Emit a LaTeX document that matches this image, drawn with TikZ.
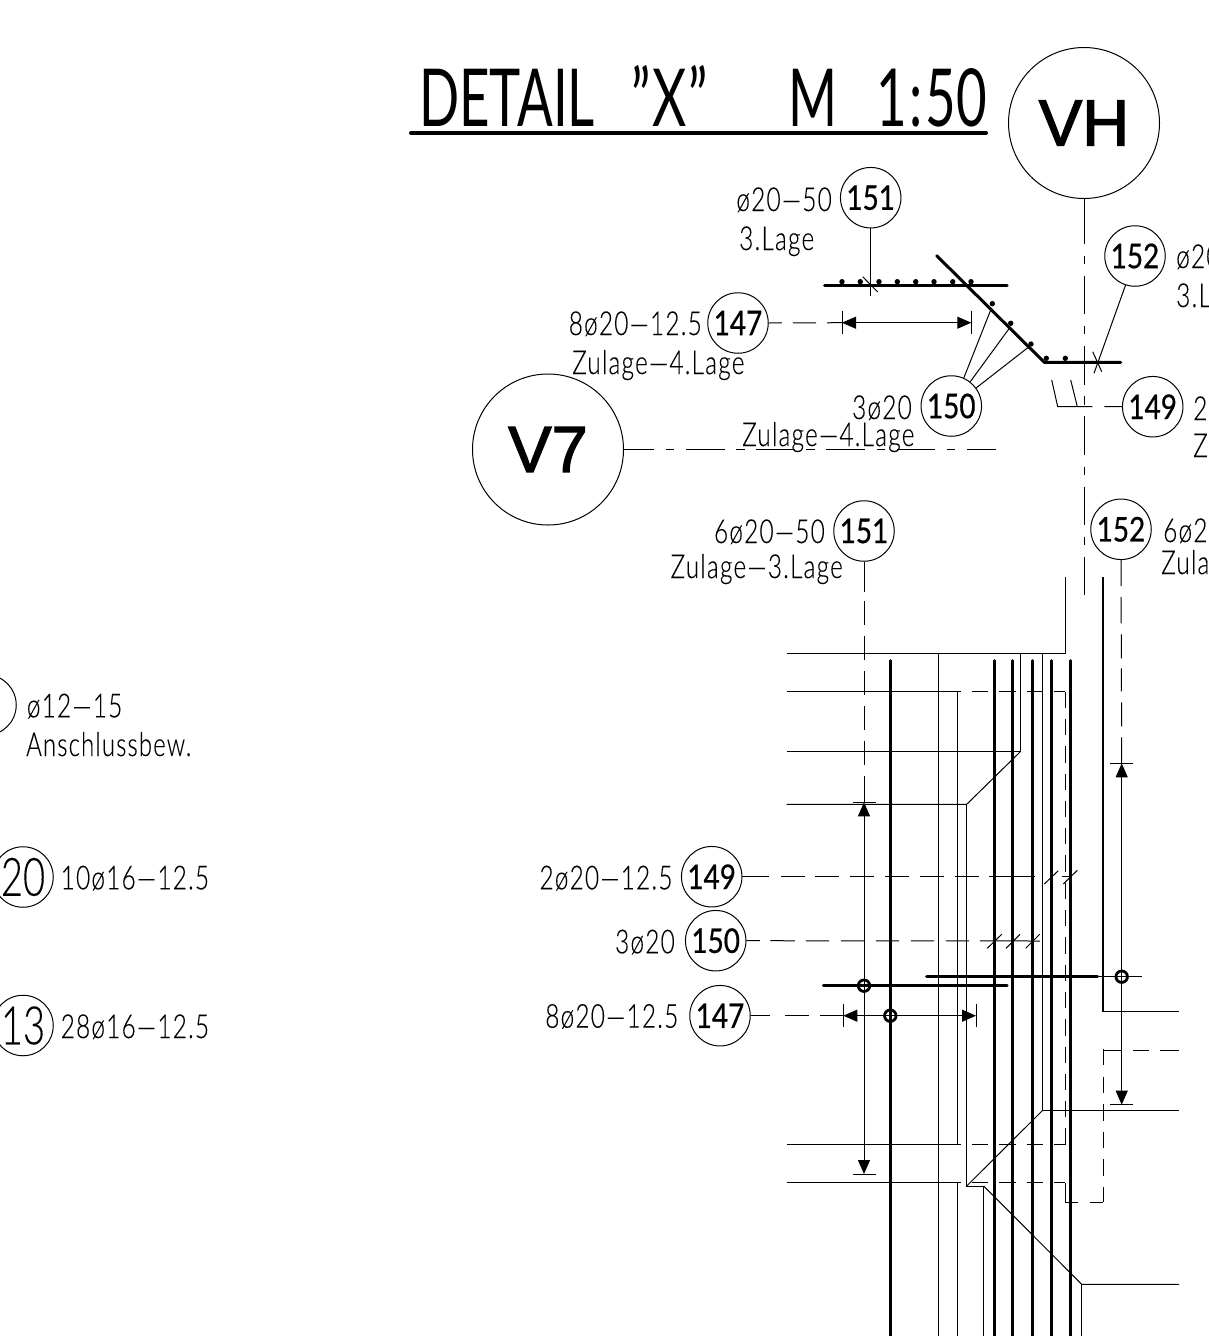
\documentclass[tikz,border=0pt]{standalone}
\usepackage{fontspec}
\usetikzlibrary{arrows.meta}
\setmainfont{Lato Light}[FakeStretch=0.74,LetterSpace=3.6,FakeBold=0.12]
\newfontfamily\titlefont{Lato}[FakeStretch=0.66]
\newfontfamily\bigtxtfont{Lato Light}[FakeStretch=0.72,FakeBold=0.15]
\newfontfamily\lblfont{Lato}[FakeStretch=0.82,FakeBold=0.6]
\newfontfamily\arialfont{Liberation Sans}[FakeBold=2]
\tikzset{
  x=1pt,y=-1pt,
  ln/.style={line width=1pt,line cap=butt},
  bar/.style={line width=3pt,line cap=round},
  dimline/.style={ln,{Triangle[length=14pt,width=12pt]}-{Triangle[length=14pt,width=12pt]}},
  hdash/.style={ln,dash pattern=on 16.5pt off 11pt,dash phase=16.5pt},
  vdash/.style={ln,dash pattern=on 16.3pt off 11pt},
  dashdot/.style={ln,dash pattern=on 38.5pt off 11.7pt on 8.3pt off 11.7pt},
  txt/.style={inner sep=0pt,anchor=base west,font=\fontsize{33}{33}\selectfont},
  txtr/.style={txt,anchor=base east},
  lbl/.style={circle,draw,line width=1pt,minimum size=60.5pt,inner sep=0pt,font=\lblfont\fontsize{34}{34}\selectfont},
  biglbl/.style={lbl,font=\bigtxtfont\fontsize{53}{53}\selectfont},
  bigc/.style={circle,draw,line width=1pt,inner sep=0pt,font=\arialfont\fontsize{65}{65}\selectfont},
  bigV/.style={bigc,minimum size=151pt},
  ring/.style={circle,draw,line width=2.8pt,minimum size=11.5pt,inner sep=0pt},
  rdot/.style={circle,fill,minimum size=5.4pt,inner sep=0pt},
}
\begin{document}
\begin{tikzpicture}
\useasboundingbox (0,0) rectangle (1209,1336);
\clip (0,0) rectangle (1209,1336);

% title
\node[txt,font=\titlefont\fontsize{80}{80}\selectfont] (title) at (419,126) {DETAIL\hspace{36pt}”\kern2pt X\kern2pt ”\hspace{81pt}M\hspace{38pt}1\kern3pt:\kern3pt 50};
\coordinate (tl) at (411,133); \coordinate (tr) at (986,133);
\draw[line width=4pt,line cap=round] (tl) -- (tr);

% big circles
\node[bigV] (VH) at (1084,123) {\raisebox{-2pt}{VH}};
\node[bigV] (V7) at (548,449.5) {V7};
\coordinate (vhA) at (1084,205.7); \coordinate (vhB) at (1084,599);
\draw[ln] (VH.south) -- (vhA);
\draw[dashdot] (vhA) -- (vhB);
\coordinate (v7B) at (996,449.5);
\draw[ln,dash pattern=on 30pt off 12pt on 8.3pt off 11.7pt on 38.5pt off 11.7pt on 8.3pt off 11.7pt on 38.5pt off 11.7pt on 8.3pt off 11.7pt on 38.5pt off 11.7pt on 8.3pt off 11.7pt on 38.5pt off 11.7pt on 8.3pt off 11.7pt on 38.5pt] (V7.east) -- (v7B);

% upper detail bars
\coordinate (b1a) at (824.5,285); \coordinate (b1b) at (1007,285);
\draw[bar] (b1a) -- (b1b);
\coordinate (b2a) at (936.7,255.7); \coordinate (b2b) at (1044.3,362.3); \coordinate (b2c) at (1120.7,362.3);
\draw[bar,line join=round] (b2a) -- (b2b) -- (b2c);
\foreach \px/\py in {842/281.7,860.3/281.7,879/281.7,897.3/281.7,915.7/281.7,934/281.7,952.7/281.7,971/281.7,992.3/303.7,1010.7/323.3,1031/344,1046.3/358.3,1065.3/358.3}
  \node[rdot] at (\px,\py) {};

% upper labels
\node[lbl] (t151) at (870.7,197.7) {151};
\node[lbl] (t147) at (738,323) {147};
\node[lbl] (t150) at (951.3,406) {150};
\node[lbl] (t152) at (1135,256) {152};
\node[lbl] (t149) at (1152.7,406.7) {149};
\node[lbl] (m151) at (864,531) {151};
\node[lbl] (m152) at (1121,529.3) {152};

\node[txtr] (x1) at (832,211) {ø20—50};
\node[txt] (x2) at (739,250) {3.Lage};
\node[txtr] (x3) at (702,335) {8ø20—12.5};
\node[txt] (x4) at (572,374) {Zulage—4.Lage};
\node[txtr] (x5) at (912,419) {3ø20};
\node[txt] (x6) at (742,446) {Zulage—4.Lage};
\node[txtr] (x7) at (825,543) {6ø20—50};
\node[txtr] (x8) at (843,578) {Zulage—3.Lage};
\node[txt] (x9) at (1176,268) {ø20};
\node[txt] (x10) at (1176,307) {3.L};
\node[txt] (x11) at (1193,420) {2ø};
\node[txt] (x12) at (1193,457) {Z};
\node[txt] (x13) at (1163,542) {6ø20};
\node[txt] (x14) at (1161,574) {Zula};

% upper leaders
\coordinate (l151) at (870.7,296);
\draw[ln] (t151.south) -- (l151);
\coordinate (k1a) at (862.7,276.7); \coordinate (k1b) at (877.7,292);
\draw[ln] (k1a) -- (k1b);
\coordinate (l152) at (1094,373.3);
\draw[ln] (t152.-108) -- (l152);
\coordinate (k2a) at (1092.7,351.7); \coordinate (k2b) at (1101.7,371.7);
\draw[ln] (k2a) -- (k2b);
\coordinate (l150a) at (990.7,310); \coordinate (l150b) at (1009.3,328.3); \coordinate (l150c) at (1028.3,347.3);
\draw[ln] (t150.66) -- (l150a);
\draw[ln] (t150.52) -- (l150b);
\draw[ln] (t150.36) -- (l150c);
\coordinate (h1) at (1057.7,406.7); \coordinate (h0) at (1051.7,380);
\coordinate (h2) at (1077.3,406.7); \coordinate (h3) at (1070.7,380);
\draw[ln,dash pattern=on 17.5pt off 12pt on 200pt] (t149.west) -- (h1) -- (h0);
\draw[ln] (h2) -- (h3);
\coordinate (d1a) at (842,322.7); \coordinate (d1b) at (971.3,322.7);
\draw[dimline] (d1a) -- (d1b);
\coordinate (d1at) at (842,310.7); \coordinate (d1ab) at (842,334);
\coordinate (d1bt) at (971.3,310.7); \coordinate (d1bb) at (971.3,334);
\draw[ln] (d1at) -- (d1ab); \draw[ln] (d1bt) -- (d1bb);
\draw[ln,dash pattern=on 13pt off 11pt on 23.4pt off 11pt on 23.4pt] (t147.east) -- (d1a);

% main section: thin lines
\coordinate (a1) at (786.7,653); \coordinate (a2) at (1065,653); \coordinate (a3) at (1065,577);
\draw[ln] (a1) -- (a2) -- (a3);
\coordinate (b1) at (1103,577); \coordinate (b2) at (1103,1011.7); \coordinate (b3) at (1179,1011.7);
\draw[line width=1.4pt] (b1) -- (b2) -- (b3);
\coordinate (c1) at (1179,1050); \coordinate (c2) at (1103,1050); \coordinate (c2b) at (1103,1049); \coordinate (c3) at (1103,1202.3); \coordinate (c4) at (1065,1202.3); \coordinate (c5) at (1065,1182.5); \coordinate (c6) at (960.7,1182.5); \coordinate (c7) at (786.7,1182.5);
\draw[ln,dash pattern=on 19pt off 11pt on 15.7pt off 11.7pt on 19pt] (c2) -- (c1);
\draw[ln,dash pattern=on 16.3pt off 11.7pt on 15.5pt off 11.7pt] (c2b) -- (c3);
\draw[ln,dash pattern=on 13.3pt off 11.7pt on 13.3pt] (c3) -- (c4);
\draw[ln] (c4) -- (c5);
\draw[ln] (c7) -- (c6);
\draw[hdash] (c6) -- (c5);
\coordinate (e1) at (786.7,691); \coordinate (e2) at (960.7,691); \coordinate (e3) at (1065.3,691); \coordinate (e3b) at (1065,691.6); \coordinate (e4) at (1065,1144.7); \coordinate (e5) at (960.7,1144.7); \coordinate (e6) at (786.7,1144.7); \coordinate (e7) at (1065.3,1144.7);
\draw[ln] (e1) -- (e2);
\draw[hdash] (e2) -- (e3);
\draw[vdash] (e3b) -- (e4);
\draw[hdash] (e5) -- (e7);
\draw[ln] (e5) -- (e6);
\coordinate (g1) at (957.7,691); \coordinate (g2) at (957.7,1144.7); \coordinate (g3) at (957.7,1182.5); \coordinate (g4) at (957.7,1336);
\draw[line width=1.1pt] (g1) -- (g2); \draw[line width=1.1pt] (g3) -- (g4);
\coordinate (f1) at (786.7,751.7); \coordinate (f2) at (1020.3,751.7); \coordinate (f3) at (1020.3,653); \coordinate (f4) at (966.7,804.3); \coordinate (f5) at (786.7,804.3); \coordinate (f6) at (966.7,1186); \coordinate (f7) at (983.7,1186); \coordinate (f8) at (983.7,1336);
\draw[ln] (f3) -- (f2) -- (f1);
\draw[ln] (f2) -- (f4) -- (f5);
\draw[ln] (f4) -- (f6) -- (f7) -- (f8);
\coordinate (i1) at (1042.3,653); \coordinate (i2) at (1042.3,1110.7); \coordinate (i3) at (1179,1110.7);
\draw[ln] (i1) -- (i2) -- (i3);
\draw[ln] (f6) -- (i2);
\coordinate (j1) at (1081.7,1284.3); \coordinate (j2) at (1179,1284.3); \coordinate (j3) at (1081.7,1336);
\draw[ln] (f7) -- (j1) -- (j2);
\draw[ln] (j1) -- (j3);
\coordinate (o1) at (938.3,653); \coordinate (o2) at (938.3,1336);
\draw[ln] (o1) -- (o2);

% thick verticals
\foreach \vx in {890,994.7,1012.5,1032.3,1051,1070}
  \draw[bar] (\vx,660.7) -- (\vx,1340);
% thick horizontals
\coordinate (p1) at (823.3,985.7); \coordinate (p2) at (1007,985.7);
\draw[bar] (p1) -- (p2);
\coordinate (q1) at (926.7,976.7); \coordinate (q2) at (1097.7,976.7); \coordinate (q3) at (1142.3,976.7);
\draw[ln] (q2) -- (q3);
\draw[bar] (q1) -- (q2);

% lower labels
\node[lbl] (b149) at (711.7,876.7) {149};
\node[lbl] (b150) at (715.7,940.7) {150};
\node[lbl] (b147) at (720,1015.7) {147};
\node[txtr] (y1) at (672.7,889.3) {2ø20—12.5};
\node[txtr] (y2) at (675,953.3) {3ø20};
\node[txtr] (y3) at (678.5,1027.7) {8ø20—12.5};
\coordinate (r149) at (1070,876.7);
\draw[ln,dash pattern=on 27pt off 11.7pt on 24.3pt off 10pt on 24pt off 11pt on 24pt off 11pt on 24pt off 11pt on 24pt off 11pt on 24pt off 10pt on 46pt] (b149.east) -- (r149);
\coordinate (r150) at (1040,941);
\draw[ln,dash pattern=on 13.3pt off 10.7pt on 24.3pt off 11pt on 23.3pt off 11.7pt on 23.3pt off 11.7pt on 23.3pt off 11.7pt on 23.3pt off 11.7pt on 23.3pt off 10.7pt on 60pt] (b150.east) -- (r150);
\foreach \ax/\ay/\bx/\by in {1044.3/884/1058.3/870.7,1063.3/884/1077.3/870.3,987.3/948.3/1001.7/934.3,1006/948.3/1020/934.3,1025.7/948.3/1039.7/934.3}
  \draw[ln] (\ax,\ay) -- (\bx,\by);

% dimension 147 lower
\coordinate (d2a) at (843.3,1015.7); \coordinate (d2b) at (976,1015.7);
\draw[dimline] (d2a) -- (d2b);
\coordinate (d2at) at (843.3,1004); \coordinate (d2ab) at (843.3,1027);
\coordinate (d2bt) at (976,1004); \coordinate (d2bb) at (976,1027);
\draw[ln] (d2at) -- (d2ab); \draw[ln] (d2bt) -- (d2bb);
\draw[ln,dash pattern=on 19pt off 15pt on 24pt off 11pt on 24pt] (b147.east) -- (d2a);

% vertical dimension left
\coordinate (v1a) at (864,802.3); \coordinate (v1b) at (864,1174);
\draw[dimline] (v1a) -- (v1b);
\coordinate (v1at) at (852.7,802.3); \coordinate (v1ab) at (875.7,802.3);
\coordinate (v1bt) at (852.7,1174); \coordinate (v1bb) at (875.7,1174);
\draw[ln] (v1at) -- (v1ab); \draw[ln] (v1bt) -- (v1bb);
\draw[ln,dash pattern=on 30pt off 9pt on 24pt off 11pt on 24pt off 11pt on 24pt off 11pt on 24pt off 11pt on 24pt off 11pt on 27pt] (m151.south) -- (v1a);

% vertical dimension right
\coordinate (v2a) at (1121.7,763.3); \coordinate (v2b) at (1121.7,1104.7);
\draw[dimline] (v2a) -- (v2b);
\coordinate (v2at) at (1110,763.3); \coordinate (v2ab) at (1132.7,763.3);
\coordinate (v2bt) at (1110,1104.7); \coordinate (v2bb) at (1132.7,1104.7);
\draw[ln] (v2at) -- (v2ab); \draw[ln] (v2bt) -- (v2bb);
\draw[ln,dash pattern=on 26pt off 11pt on 26.3pt off 11pt on 24pt off 10pt on 23pt off 11pt on 24pt off 11pt on 26pt] (m152.south) -- (v2a);

% rings
\node[ring] (ra) at (864,985.7) {};
\node[ring] (rb) at (890.3,1015.7) {};
\node[ring] (rc) at (1121.7,976.7) {};

% left column
\node[lbl] (lc0) at (-14,705) {};
\node[biglbl] (lc1) at (23,877) {20};
\node[biglbl] (lc2) at (23,1025.5) {13};
\node[txt] (z1) at (26.7,717.3) {ø12—15};
\node[txt] (z2) at (26,756) {\scalebox{0.98}[1]{Anschlussbew.}};
\node[txtr] (z3) at (209.3,889.3) {10ø16—12.5};
\node[txtr] (z4) at (209.3,1038) {28ø16—12.5};
\end{tikzpicture}
\end{document}
